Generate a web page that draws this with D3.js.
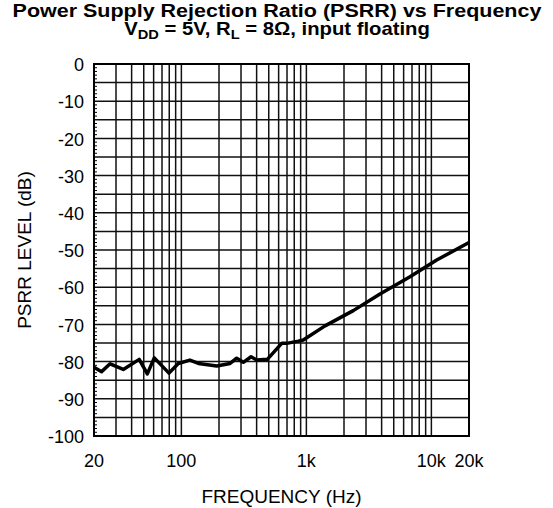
<!DOCTYPE html>
<html>
<head>
<meta charset="utf-8">
<script src="https://cdn.jsdelivr.net/npm/d3@7"></script>
<style>
  body { margin: 0; background: #fff; }
  text { font-family: "Liberation Sans", Arial, sans-serif; fill: #000; }
</style>
</head>
<body>
<div id="chart"></div>
<script>
// PSRR curve
const freq = [20, 23, 26.9, 34.3, 46, 53.4, 60.7, 79.6, 94.5, 117, 137, 192, 245, 277, 313, 361, 401, 487, 635, 696, 862, 944, 1410, 2372, 3882, 6745, 11030, 20000];
const psrr = [-81.5, -82.7, -80.6, -82.1, -79.4, -83.3, -79.0, -83.1, -80.5, -79.6, -80.5, -81.2, -80.5, -79.1, -80.2, -78.7, -79.6, -79.4, -75.1, -75.1, -74.5, -74.2, -70.4, -66.3, -61.8, -57.2, -52.7, -48.0];

const xTickValues = [20, 100, 1000, 10000, 20000];
const xTickLabels = ["20", "100", "1k", "10k", "20k"];
const yTickValues = [0, -10, -20, -30, -40, -50, -60, -70, -80, -90, -100];

const width = 553, height = 508;
const margin = { top: 64, right: 84, bottom: 72, left: 94 };
const w = width - margin.left - margin.right;
const h = height - margin.top - margin.bottom;

const svg = d3.select('#chart').append('svg')
  .attr('width', width)
  .attr('height', height);

// title, stretched horizontally like the original
function fitWidth(sel, cx, target) {
  const bb = sel.node().getBBox();
  const s = target / bb.width;
  sel.attr('transform', `translate(${cx},0) scale(${s},1) translate(${-cx},0)`);
}

const t1 = svg.append('text')
  .attr('text-anchor', 'middle')
  .attr('x', 277).attr('y', 17)
  .style('font-weight', 'bold')
  .style('font-size', '18px')
  .text('Power Supply Rejection Ratio (PSRR) vs Frequency');
fitWidth(t1, 277, 529);

const t2 = svg.append('text')
  .attr('text-anchor', 'middle')
  .attr('x', 277).attr('y', 35)
  .style('font-weight', 'bold')
  .style('font-size', '18px');
t2.append('tspan').text('V');
t2.append('tspan').attr('dy', 4).style('font-size', '13px').text('DD');
t2.append('tspan').attr('dy', -4).text(' = 5V, R');
t2.append('tspan').attr('dy', 4).style('font-size', '13px').text('L');
t2.append('tspan').attr('dy', -4).text(' = 8Ω, input floating');
fitWidth(t2, 277, 306);

const g = svg.append('g')
  .attr('transform', `translate(${margin.left},${margin.top})`);

const x = d3.scaleLog().domain([20, 20000]).range([0, w]);
const y = d3.scaleLinear().domain([-100, 0]).range([h, 0]);

// vertical grid: 1..9 per decade
const xGrid = [];
[10, 100, 1000, 10000].forEach(dec => {
  for (let k = 1; k <= 9; k++) {
    const v = dec * k;
    if (v > 20 && v < 20000) xGrid.push(v);
  }
});
g.append('g')
  .selectAll('line')
  .data(xGrid)
  .join('line')
  .attr('x1', d => x(d)).attr('x2', d => x(d))
  .attr('y1', 0).attr('y2', h)
  .attr('stroke', '#111')
  .attr('stroke-width', 1.5);

// horizontal grid every 5 dB
g.append('g')
  .selectAll('line')
  .data(d3.range(-95, 0, 5))
  .join('line')
  .attr('x1', 0).attr('x2', w)
  .attr('y1', d => y(d)).attr('y2', d => y(d))
  .attr('stroke', '#111')
  .attr('stroke-width', 1.5);

// minor ticks on the left axis (1 dB)
g.append('g')
  .selectAll('line')
  .data(d3.range(-99, 0, 1).filter(d => d % 5 !== 0))
  .join('line')
  .attr('x1', 0).attr('x2', 3)
  .attr('y1', d => y(d)).attr('y2', d => y(d))
  .attr('stroke', '#000')
  .attr('stroke-width', 1);

// frame
g.append('rect')
  .attr('width', w).attr('height', h)
  .attr('fill', 'none')
  .attr('stroke', '#000')
  .attr('stroke-width', 2);

// y tick labels
g.append('g')
  .selectAll('text')
  .data(yTickValues)
  .join('text')
  .attr('x', -10)
  .attr('y', d => y(d))
  .attr('dy', '0.4em')
  .attr('text-anchor', 'end')
  .style('font-size', '18px')
  .text(d => d);

// x tick labels
g.append('g')
  .selectAll('text')
  .data(xTickValues)
  .join('text')
  .attr('x', d => x(d))
  .attr('y', h + 31)
  .attr('text-anchor', 'middle')
  .style('font-size', '18px')
  .text((d, i) => xTickLabels[i]);

// axis titles
svg.append('text')
  .attr('x', margin.left + w / 2)
  .attr('y', 503)
  .attr('text-anchor', 'middle')
  .style('font-size', '19px')
  .text('FREQUENCY (Hz)');

svg.append('text')
  .attr('transform', `translate(31,${margin.top + h / 2}) rotate(-90)`)
  .attr('text-anchor', 'middle')
  .style('font-size', '19px')
  .text('PSRR LEVEL (dB)');

// the curve
const line = d3.line()
  .x((d, i) => x(freq[i]))
  .y(d => y(d));

g.append('path')
  .datum(psrr)
  .attr('fill', 'none')
  .attr('stroke', '#000')
  .attr('stroke-width', 3.5)
  .attr('stroke-linejoin', 'round')
  .attr('d', line);
</script>
</body>
</html>
